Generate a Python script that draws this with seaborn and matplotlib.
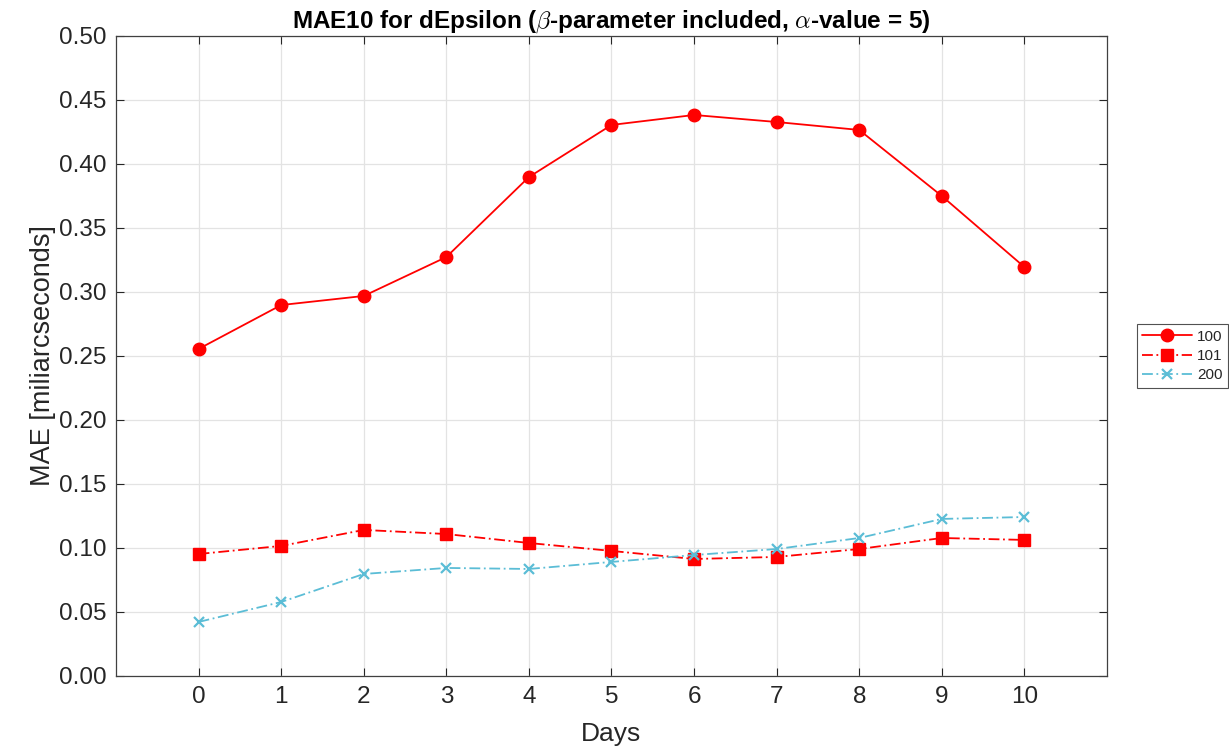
import matplotlib
matplotlib.use("Agg")
import matplotlib.pyplot as plt
import seaborn as sns
import pandas as pd

days = [0, 1, 2, 3, 4, 5, 6, 7, 8, 9, 10]
mae_100 = [0.2555, 0.2898, 0.2969, 0.3273, 0.3898, 0.4305, 0.4383, 0.4328, 0.4266, 0.3750, 0.3195]
mae_101 = [0.0953, 0.1016, 0.1141, 0.1109, 0.1039, 0.0977, 0.0914, 0.0930, 0.0992, 0.1078, 0.1063]
mae_200 = [0.0422, 0.0578, 0.0797, 0.0844, 0.0836, 0.0891, 0.0945, 0.0992, 0.1078, 0.1227, 0.1242]
series_names = ["100", "101", "200"]
y_ticks = [0.00, 0.05, 0.10, 0.15, 0.20, 0.25, 0.30, 0.35, 0.40, 0.45, 0.50]

sns.set_theme(style="whitegrid")
plt.rcParams["font.family"] = ["Liberation Sans", "DejaVu Sans"]
plt.rcParams["mathtext.fontset"] = "cm"

fig = plt.figure(figsize=(12.29, 7.5), dpi=100)
ax = fig.add_axes([0.0944, 0.0987, 0.8063, 0.8533])

styles = {
    "100": dict(color="#FF0000", linestyle="-", marker="o", markersize=9, lw=1.3),
    "101": dict(color="#FF0000", linestyle=(0, (6, 2, 1, 2)), marker="s", markersize=8, lw=1.3),
    "200": dict(color="#5BBDD6", linestyle=(0, (6, 2, 1, 2)), marker="x", markersize=7, lw=1.3,
                markeredgewidth=1.6),
}
for name, vals in zip(series_names, [mae_100, mae_101, mae_200]):
    df = pd.DataFrame({"Days": days, "MAE": vals})
    st = styles[name]
    sns.lineplot(data=df, x="Days", y="MAE", ax=ax, label=name,
                 color=st["color"], linestyle=st["linestyle"], marker=st["marker"],
                 markersize=st["markersize"], linewidth=st["lw"],
                 markeredgecolor=st["color"],
                 markeredgewidth=st.get("markeredgewidth", 1.0))

ax.set_xlim(-1, 11)
ax.set_ylim(0, 0.5)
ax.set_xticks(days)
ax.set_yticks(y_ticks)
ax.set_yticklabels([f"{v:.2f}" for v in y_ticks])
ax.tick_params(axis="both", labelsize=17.5, colors="#262626", direction="in",
               length=6, width=0.8, top=True, right=True, left=True, bottom=True,
               pad=7)
ax.grid(True, color="#E3E3E3", linewidth=0.9)
for sp in ax.spines.values():
    sp.set_color("#404040")
    sp.set_linewidth(0.9)

ax.set_xlabel("Days", fontsize=19, color="#262626", labelpad=10)
ax.set_ylabel("MAE [miliarcseconds]", fontsize=19.5, color="#262626", labelpad=2)
ax.set_title(r"MAE10 for dEpsilon ($\beta$-parameter included, $\alpha$-value = 5)",
             fontsize=17.5, fontweight="bold", color="black", pad=6)

leg = ax.legend(loc="center left", bbox_to_anchor=(1.03, 0.5), fontsize=11,
                frameon=True, fancybox=False, edgecolor="#262626",
                handlelength=3.3, borderpad=0.35, labelspacing=0.35,
                handletextpad=0.3, borderaxespad=0)
leg.get_frame().set_linewidth(0.8)

fig.savefig("out.png", dpi=100, facecolor="white")
